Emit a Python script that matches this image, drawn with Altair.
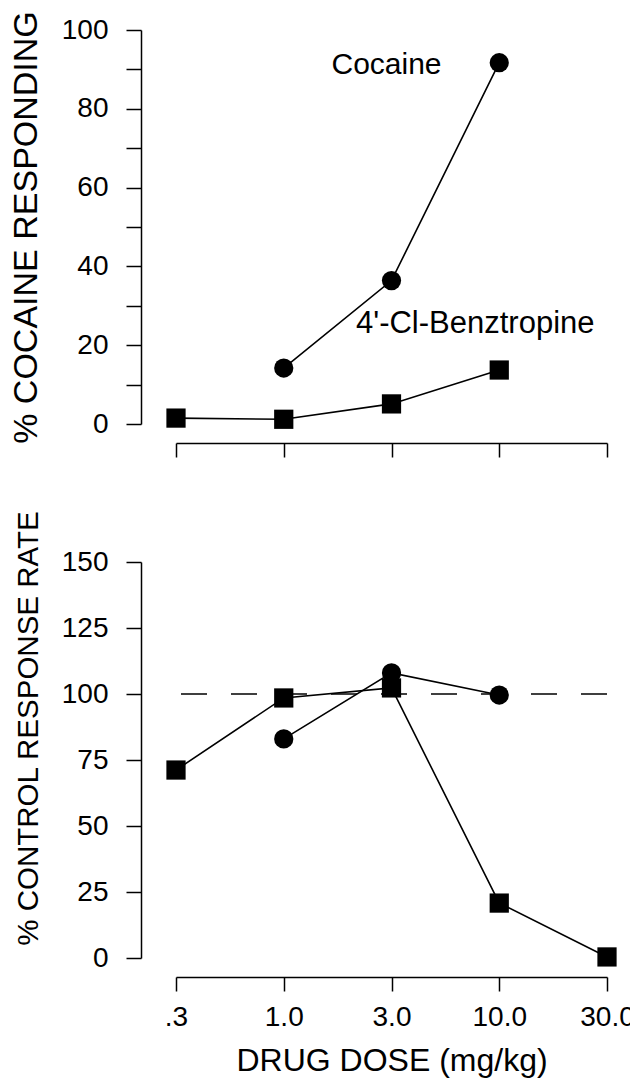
import altair as alt
import pandas as pd

# ---- data ----
dose_labels = [".3", "1.0", "3.0", "10.0", "30.0"]
drug_names = ["Cocaine", "4'-Cl-Benztropine"]

coc_disc_doses = ["1.0", "3.0", "10.0"]
coc_disc_values = [14.2, 36.4, 91.7]
benz_disc_doses = [".3", "1.0", "3.0", "10.0"]
benz_disc_values = [1.5, 1.2, 5.1, 13.7]

coc_rate_doses = ["1.0", "3.0", "10.0"]
coc_rate_values = [83.0, 108.0, 99.6]
benz_rate_doses = [".3", "1.0", "3.0", "10.0", "30.0"]
benz_rate_values = [71.2, 98.5, 102.3, 20.8, 0.4]

control_level = [100]

label_texts = ["Cocaine", "4'-Cl-Benztropine"]
label_doses = ["3.0", "10.0"]
label_values = [91.0, 25.3]

FONT = "Liberation Sans"

disc = pd.DataFrame({
    "dose": coc_disc_doses + benz_disc_doses,
    "value": coc_disc_values + benz_disc_values,
    "drug": [drug_names[0]] * len(coc_disc_doses) + [drug_names[1]] * len(benz_disc_doses),
})
rate = pd.DataFrame({
    "dose": coc_rate_doses + benz_rate_doses,
    "value": coc_rate_values + benz_rate_values,
    "drug": [drug_names[0]] * len(coc_rate_doses) + [drug_names[1]] * len(benz_rate_doses),
})
labels = pd.DataFrame({"text": label_texts, "dose": label_doses, "value": label_values})
ctrl = pd.DataFrame({"value": control_level})

xscale = alt.Scale(type="point", domain=dose_labels, padding=0)
shape_scale = alt.Scale(domain=drug_names, range=["circle", "square"])

W = 431

x_top = alt.X("dose:O", scale=xscale, sort=dose_labels,
              axis=alt.Axis(labels=False, title=None, offset=19, tickSize=14))
y_top = alt.Y("value:Q", scale=alt.Scale(domain=[0, 100], nice=False),
              axis=alt.Axis(values=list(range(0, 101, 10)),
                            labelExpr="datum.value % 20 == 0 ? datum.label : ''",
                            offset=35, tickSize=15, labelPadding=18,
                            title="% COCAINE RESPONDING", titleFontSize=34,
                            titleY=197, titlePadding=18))

top_lines = alt.Chart(disc).mark_line(color="black", strokeWidth=1.6).encode(
    x=x_top, y=y_top, detail="drug:N")
top_pts = alt.Chart(disc).mark_point(filled=True, color="black", size=370, opacity=1).encode(
    x=x_top, y=y_top, shape=alt.Shape("drug:N", scale=shape_scale, legend=None))
text_coc = alt.Chart(labels).transform_filter(alt.datum.text == label_texts[0]).mark_text(
    font=FONT, fontSize=30, color="black", align="center", baseline="middle", dx=-5
).encode(x=x_top, y=y_top, text="text:N")
text_benz = alt.Chart(labels).transform_filter(alt.datum.text == label_texts[1]).mark_text(
    font=FONT, fontSize=31, color="black", align="center", baseline="middle", dx=-24
).encode(x=x_top, y=y_top, text="text:N")
top = alt.layer(top_lines, top_pts, text_coc, text_benz).properties(width=W, height=394)

x_bot = alt.X("dose:O", scale=xscale, sort=dose_labels,
              axis=alt.Axis(labelAngle=0, offset=19, tickSize=14, labelPadding=12,
                            labelFlush=False, title="DRUG DOSE (mg/kg)", titleFontSize=32,
                            titlePadding=14))
y_bot = alt.Y("value:Q", scale=alt.Scale(domain=[0, 150], nice=False),
              axis=alt.Axis(values=list(range(0, 151, 25)),
                            offset=35, tickSize=15, labelPadding=18,
                            title="% CONTROL RESPONSE RATE", titleFontSize=29.5,
                            titleY=166, titlePadding=18))

bot_rule = alt.Chart(ctrl).mark_rule(color="black", strokeWidth=1.5, strokeDash=[26, 24]).encode(
    y=alt.Y("value:Q", scale=alt.Scale(domain=[0, 150], nice=False)))
bot_lines = alt.Chart(rate).mark_line(color="black", strokeWidth=1.6).encode(
    x=x_bot, y=y_bot, detail="drug:N")
bot_pts = alt.Chart(rate).mark_point(filled=True, color="black", size=370, opacity=1).encode(
    x=x_bot, y=y_bot, shape=alt.Shape("drug:N", scale=shape_scale, legend=None))
bot = alt.layer(bot_rule, bot_lines, bot_pts).properties(width=W, height=396)

chart = alt.vconcat(top, bot, spacing=52).properties(
    background="white",
    padding={"left": 1, "top": 2, "right": -5, "bottom": 3},
).configure_view(
    stroke=None
).configure_axis(
    grid=False, domainColor="black", tickColor="black", labelColor="black",
    titleColor="black", labelFont=FONT, titleFont=FONT, labelFontSize=28,
    titleFontWeight="normal", domainWidth=1.5, tickWidth=1.5
)

chart.save("out.html", embed_options={"renderer": "svg", "actions": False})
